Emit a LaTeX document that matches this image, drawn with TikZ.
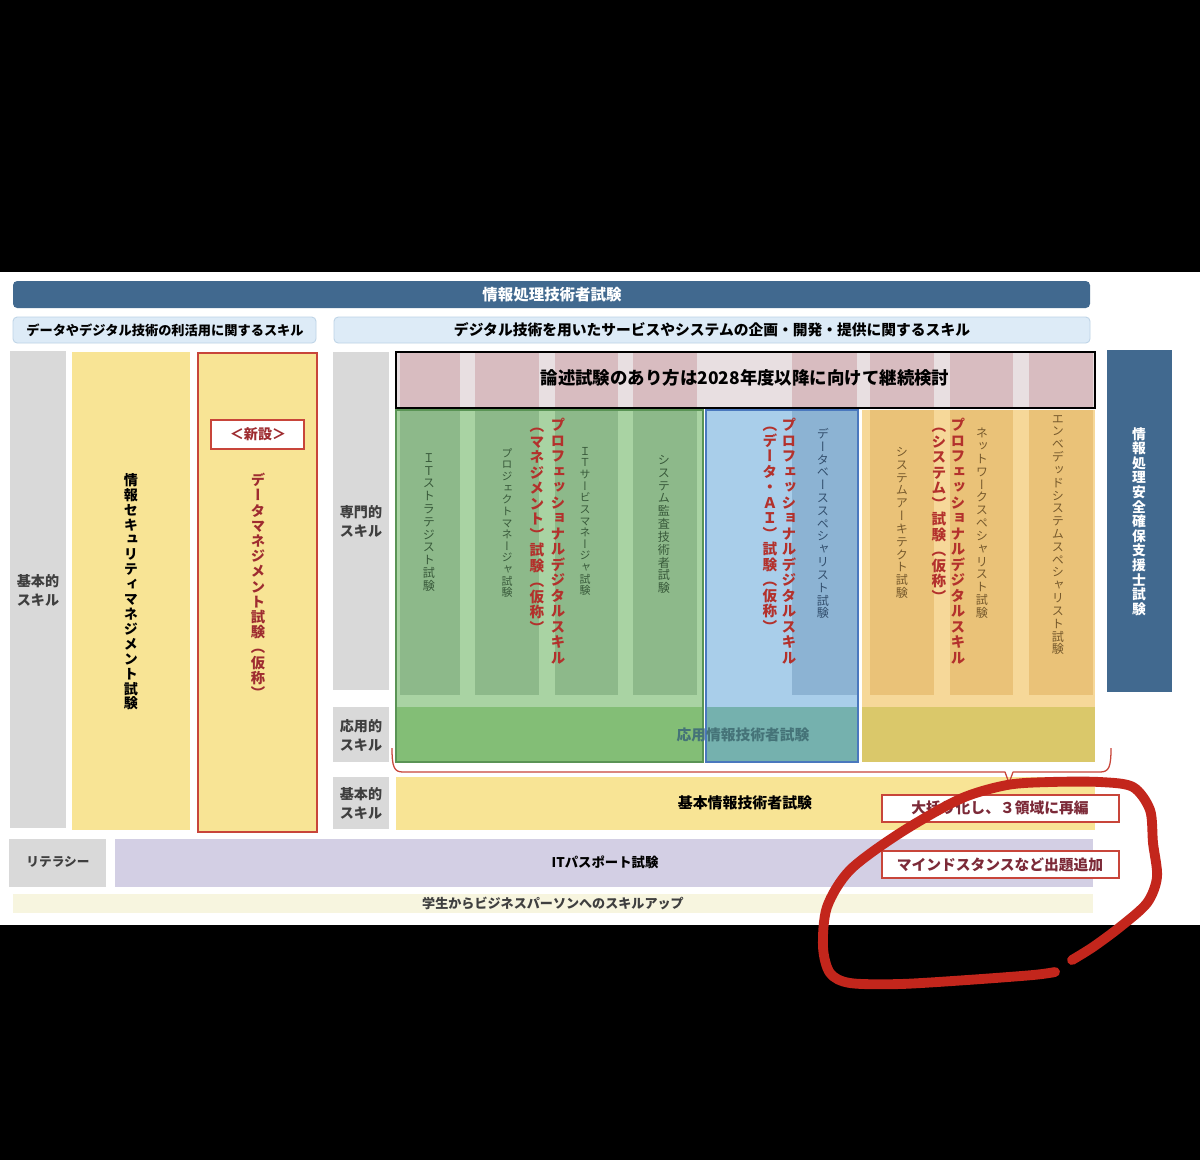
\documentclass[tikz,border=0pt]{standalone}
\usepackage{fontspec}
\setmainfont{Noto Sans CJK JP}
\newfontfamily\tatefont{Noto Sans CJK JP}[RawFeature=+vert]

\definecolor{hdrblue}{HTML}{41698F}
\definecolor{subfill}{HTML}{DDEBF7}
\definecolor{subline}{HTML}{BCD3E6}
\definecolor{sidegray}{HTML}{D9D9D9}
\definecolor{lblgray}{HTML}{3F3F3F}
\definecolor{yelfill}{HTML}{F8E495}
\definecolor{newred}{HTML}{C8453A}
\definecolor{darkred}{HTML}{9E2C30}
\definecolor{profred}{HTML}{B3312C}
\definecolor{pinkgap}{HTML}{E8DFE1}
\definecolor{pinkstrip}{HTML}{D8BCC0}
\definecolor{grnfill}{HTML}{A9D3A3}
\definecolor{grnstrip}{HTML}{8DB98A}
\definecolor{grnlow}{HTML}{83BE76}
\definecolor{grnline}{HTML}{5A9455}
\definecolor{grntext}{HTML}{38593A}
\definecolor{blufill}{HTML}{A9CEEA}
\definecolor{blustrip}{HTML}{8CB3D3}
\definecolor{blulow}{HTML}{75B1AE}
\definecolor{bluline}{HTML}{4A78BE}
\definecolor{blutext}{HTML}{324E6C}
\definecolor{orgfill}{HTML}{F6D899}
\definecolor{orgstrip}{HTML}{EAC278}
\definecolor{orglow}{HTML}{DAC86A}
\definecolor{orgtext}{HTML}{76592C}
\definecolor{applytext}{HTML}{457378}
\definecolor{purfill}{HTML}{D3CFE4}
\definecolor{creamfill}{HTML}{F7F5DF}
\definecolor{notered}{HTML}{7C2A38}
\definecolor{penred}{HTML}{C3261C}

\ExplSyntaxOn
\NewDocumentCommand\tate{m}
  {
    \vbox
      {
        \baselineskip=1.06em
        \lineskiplimit=-\maxdimen
        \tl_map_inline:nn {#1} { \hbox_to_wd:nn {1em} { \hss ##1 \hss } }
      }
  }
\ExplSyntaxOff

\tikzset{
  hdrbar/.style={fill=hdrblue, rounded corners=3pt},
  subhdr/.style={fill=subfill, draw=subline, line width=0.6pt, rounded corners=3pt},
  sidebox/.style={fill=sidegray},
  lbl/.style={text=lblgray, align=center, inner sep=0pt,
    font=\bfseries\fontsize{10}{13.5}\selectfont},
  htext/.style={inner sep=0pt, font=\bfseries\fontsize{#1}{#1}\selectfont},
  htext/.default=10,
  tv/.style={inner sep=0pt, anchor=north, font=\tatefont\fontsize{#1}{#1}\selectfont},
  tv/.default=8.5,
  tvb/.style={inner sep=0pt, anchor=north, font=\tatefont\bfseries\fontsize{#1}{#1}\selectfont},
  tvb/.default=10,
  notebox/.style={fill=white, draw=newred, line width=1pt},
  brace/.style={draw=newred, line width=0.9pt, line join=round},
  pen/.style={draw=penred, line width=7pt, line cap=round, line join=round}
}

\begin{document}
\begin{tikzpicture}[x=0.025cm,y=-0.025cm]
\useasboundingbox (0,0) rectangle (1200,1160);
\fill[black] (0,0) rectangle (1200,1160);
\fill[white] (0,272) rectangle (1200,925);

% headers
\fill[hdrbar] (13,281) rectangle (1090,308);
\node[htext=11, text=white] (title) at (552,295) {情報処理技術者試験};
\draw[subhdr] (13,317) rectangle (316,343);
\node[htext=9.4] (subL) at (165,330) {データやデジタル技術の利活用に関するスキル};
\draw[subhdr] (334,317) rectangle (1090,343);
\node[htext=10.5] (subR) at (712,330) {デジタル技術を用いたサービスやシステムの企画・開発・提供に関するスキル};

% left block
\fill[sidebox] (10,351) rectangle (66,828);
\node[lbl] (kihonL) at (38,590) {基本的\\スキル};
\fill[yelfill] (72,352) rectangle (190,830);
\node[tvb] (sec) at (131,473) {\tate{情報セキュリティマネジメント試験}};
\draw[fill=yelfill, draw=newred, line width=1.5pt] (198,353) rectangle (317,832);
\draw[notebox] (211,420) rectangle (304,449);
\node[htext=10, text=darkred] (shin) at (258,434) {＜新設＞};
\node[tvb=10.2, text=darkred] (dm) at (258,473) {\tate{データマネジメント試験（仮称）}};

% skill levels
\fill[sidebox] (333,352) rectangle (389,690);
\node[lbl] (senmon) at (361,521) {専門的\\スキル};
\fill[sidebox] (333,707) rectangle (389,762);
\node[lbl] (ouyou) at (361,735) {応用的\\スキル};
\fill[sidebox] (333,777) rectangle (389,829);
\node[lbl] (kihon) at (361,803) {基本的\\スキル};

% management group
\fill[grnfill] (396,410) rectangle (703,762);
\foreach \a/\b in {400/460,475/539,555/618,633/697}
  \fill[grnstrip] (\a,410) rectangle (\b,695);
\fill[grnlow] (396,707) rectangle (703,762);
\draw[grnline, line width=1.2pt] (396,410) rectangle (703,762);
\node[tv=8.6, text=grntext] (st) at (429,453) {\tate{ＩＴストラテジスト試験}};
\node[tv=7.8, text=grntext] (pm) at (507,448) {\tate{プロジェクトマネージャ試験}};
\node[tv=7.8, text=grntext] (sm) at (585,447) {\tate{ＩＴサービスマネージャ試験}};
\node[tv=8.6, text=grntext] (au) at (664,455) {\tate{システム監査技術者試験}};
\node[tvb=10.4, text=profred] (pmgA) at (558,418) {\tate{プロフェッショナルデジタルスキル}};
\node[tvb=10.4, text=profred] (pmgB) at (537,428) {\tate{（マネジメント）試験（仮称）}};

% data group
\fill[blufill] (706,410) rectangle (858,762);
\fill[blustrip] (792,410) rectangle (857,695);
\fill[blulow] (706,707) rectangle (858,762);
\draw[bluline, line width=1.2pt] (706,410) rectangle (858,762);
\node[tv=8.6, text=blutext] (db) at (823,428) {\tate{データベーススペシャリスト試験}};
\node[tvb=10.4, text=profred] (pdaA) at (789,418) {\tate{プロフェッショナルデジタルスキル}};
\node[tvb=10.4, text=profred] (pdaB) at (770,427) {\tate{（データ・ＡＩ）試験（仮称）}};

% system group
\fill[orgfill] (862,410) rectangle (1095,762);
\foreach \a/\b in {870/934,950/1013,1029/1093}
  \fill[orgstrip] (\a,410) rectangle (\b,695);
\fill[orglow] (862,707) rectangle (1095,762);
\node[tv=8.6, text=orgtext] (sa) at (902,447) {\tate{システムアーキテクト試験}};
\node[tv=8.6, text=orgtext] (nw) at (982,428) {\tate{ネットワークスペシャリスト試験}};
\node[tv=8.6, text=orgtext] (es) at (1058,415) {\tate{エンベデッドシステムスペシャリスト試験}};
\node[tvb=10.4, text=profred] (psyA) at (958,418) {\tate{プロフェッショナルデジタルスキル}};
\node[tvb=10.4, text=profred] (psyB) at (939,428) {\tate{（システム）試験（仮称）}};

\node[htext=10.5, text=applytext] (ap) at (743,735) {応用情報技術者試験};

% essay band
\fill[pinkgap] (396,352) rectangle (1095,408);
\foreach \a/\b in {400/460,475/539,555/618,633/697,792/857,870/934,950/1013,1029/1093}
  \fill[pinkstrip] (\a,353) rectangle (\b,407);
\draw[black, line width=1.4pt] (396,352) rectangle (1095,408);
\node[htext=12.4] (essay) at (745,378) {論述試験のあり方は2028年度以降に向けて継続検討};

% security support
\fill[hdrblue] (1107,350) rectangle (1172,692);
\node[tvb=9.8, text=white] (rs) at (1139,427) {\tate{情報処理安全確保支援士試験}};

% fundamental
\fill[yelfill] (396,777) rectangle (1095,830);
\node[htext=10.6] (fe) at (745,803) {基本情報技術者試験};
\draw[brace] (392,748) .. controls (392,767) and (394,772) .. (403,772) -- (1005,772)
  -- (1009,783) -- (1013,772) -- (1100,772) .. controls (1109,772) and (1111,767) .. (1111,748);
\draw[notebox] (882,795) rectangle (1119,822);
\node[htext=10.5, text=notered] (n1) at (1000,808) {大括り化し、３領域に再編};

% literacy
\fill[sidebox] (9,839) rectangle (106,887);
\node[lbl, font=\bfseries\fontsize{9}{9}\selectfont] (lit) at (58,862) {リテラシー};
\fill[purfill] (115,839) rectangle (1093,887);
\node[htext=9.5] (ip) at (605,862) {ITパスポート試験};
\draw[notebox] (882,851) rectangle (1119,878);
\node[htext=10.5, text=notered] (n2) at (1000,865) {マインドスタンスなど出題追加};

\fill[creamfill] (13,894) rectangle (1093,913);
\node[htext=9.3, text=lblgray] (up) at (553,903) {学生からビジネスパーソンへのスキルアップ};

% hand drawn mark
\draw[pen] plot[smooth] coordinates {(1072,960) (1093,947) (1120,927) (1147,903) (1157,877)
  (1153,843) (1150,810) (1133,787) (1100,782) (1050,782) (1007,785) (960,799) (900,833)
  (850,870) (827,907) (823,947) (830,973) (850,983) (900,984) (967,980) (1033,975) (1055,972)};
\end{tikzpicture}
\end{document}
